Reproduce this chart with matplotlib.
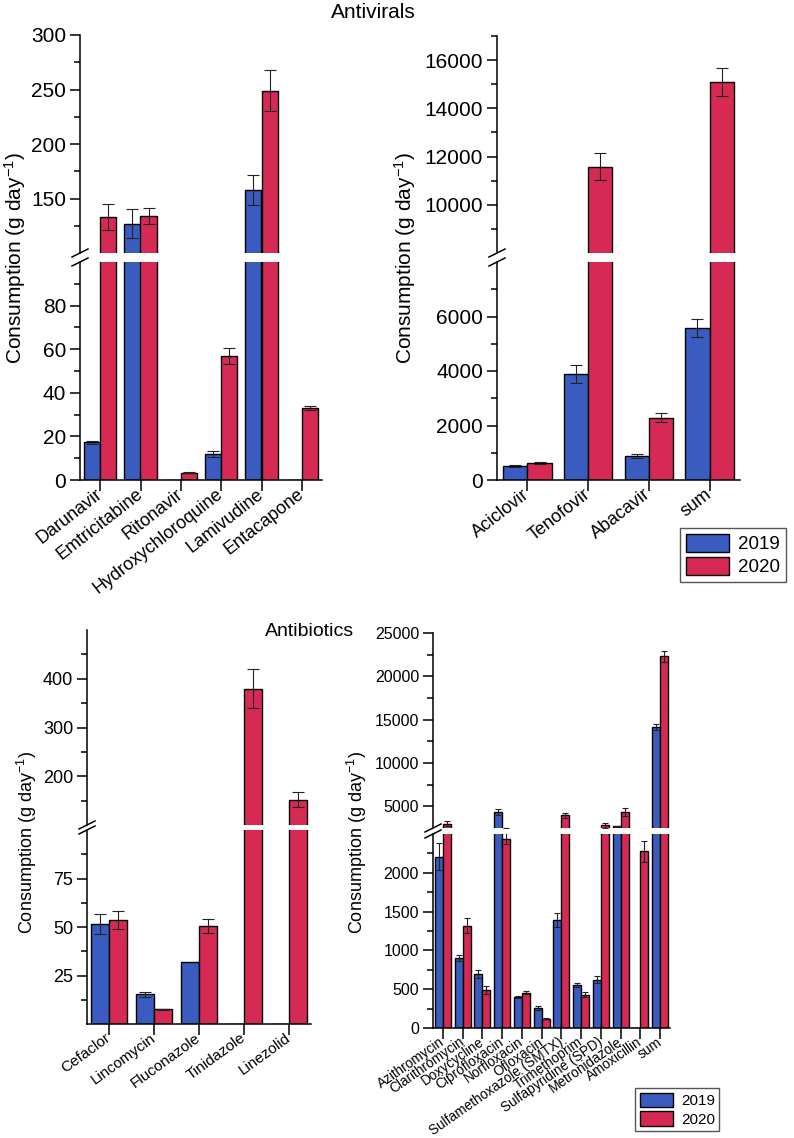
import numpy as np
import matplotlib
matplotlib.use("Agg")
import matplotlib.pyplot as plt
from matplotlib.lines import Line2D
from matplotlib.patches import Patch

plt.rcParams['font.family'] = ['Liberation Sans', 'DejaVu Sans']
plt.rcParams['mathtext.default'] = 'regular'

W, H = 794, 1138
c19 = '#3A5BBF'
c20 = '#D62A55'
years = ['2019', '2020']

# Antivirals, left panel
av1_names = ['Darunavir', 'Emtricitabine', 'Ritonavir', 'Hydroxychloroquine', 'Lamivudine', 'Entacapone']
av1_2019 = [17.3, 127, 0, 11.8, 158, 0]
av1_2019_err = [0.7, 13, 0, 1.3, 14, 0]
av1_2020 = [133, 134, 3.3, 57, 249, 33]
av1_2020_err = [12, 7.5, 0.3, 3.7, 19, 1]

# Antivirals, right panel
av2_names = ['Aciclovir', 'Tenofovir', 'Abacavir', 'sum']
av2_2019 = [510, 3890, 870, 5580]
av2_2019_err = [40, 320, 80, 320]
av2_2020 = [630, 11580, 2290, 15100]
av2_2020_err = [30, 560, 160, 580]

# Antibiotics, left panel
ab1_names = ['Cefaclor', 'Lincomycin', 'Fluconazole', 'Tinidazole', 'Linezolid']
ab1_2019 = [51.5, 15.3, 32, 0, 0]
ab1_2019_err = [5, 1.3, 0, 0, 0]
ab1_2020 = [53.6, 7.6, 50.5, 380, 152]
ab1_2020_err = [4.5, 0.3, 3.5, 40, 15]

# Antibiotics, right panel
ab2_names = ['Azithromycin', 'Clarithromycin', 'Doxycycline', 'Ciprofloxacin', 'Norfloxacin',
             'Ofloxacin', 'Sulfamethoxazole (SMTX)', 'Trimethoprim', 'Sulfapyridine (SPD)',
             'Metronidazole', 'Amoxicillin', 'sum']
ab2_2019 = [2210, 905, 697, 4340, 400, 262, 1390, 555, 620, 2680, 0, 14150]
ab2_2019_err = [175, 40, 50, 350, 15, 25, 90, 25, 45, 60, 0, 350]
ab2_2020 = [2990, 1320, 490, 2440, 452, 120, 3960, 428, 2800, 4340, 2275, 22300]
ab2_2020_err = [300, 100, 50, 70, 20, 8, 260, 30, 280, 430, 140, 650]


def px_rect(x0, y0, x1, y1):
    return [x0 / W, 1 - y1 / H, (x1 - x0) / W, (y1 - y0) / H]


def draw_bars(ax, names, v19, e19, v20, e20, cap):
    x = np.arange(len(names))
    w = 0.4
    ax.bar(x - w / 2, v19, w, color=c19, edgecolor='black', linewidth=1)
    ax.bar(x + w / 2, v20, w, color=c20, edgecolor='black', linewidth=1)
    for xs, v, e in [(x - w / 2, v19, e19), (x + w / 2, v20, e20)]:
        v = np.array(v, dtype=float)
        e = np.array(e, dtype=float)
        m = e > 0
        ax.errorbar(xs[m], v[m], yerr=e[m], fmt='none', ecolor='#222222',
                    elinewidth=0.8, capsize=cap, capthick=0.8)


def panel(up_px, low_px, names, v19, e19, v20, e20, ylim_up, ylim_low,
          maj_up, min_up, maj_low, min_low, ytick_fs, xtick_fs, rot, cap):
    ax_up = fig.add_axes(px_rect(*up_px))
    ax_low = fig.add_axes(px_rect(*low_px))
    for ax in (ax_up, ax_low):
        draw_bars(ax, names, v19, e19, v20, e20, cap)
        ax.set_xlim(-0.5, len(names) - 0.5)
        ax.spines['top'].set_visible(False)
        ax.spines['right'].set_visible(False)
        ax.spines['left'].set_linewidth(1.1)
        ax.spines['bottom'].set_linewidth(1.1)
        ax.tick_params(axis='y', which='major', direction='out', length=7, width=1.1,
                       labelsize=ytick_fs, pad=3)
        ax.tick_params(axis='y', which='minor', direction='out', length=4, width=1.1)
    ax_up.set_ylim(*ylim_up)
    ax_low.set_ylim(*ylim_low)
    ax_up.set_yticks(maj_up)
    ax_up.set_yticks(min_up, minor=True)
    ax_low.set_yticks(maj_low)
    ax_low.set_yticks(min_low, minor=True)
    ax_up.spines['bottom'].set_visible(False)
    ax_up.set_xticks([])
    ax_low.set_xticks(np.arange(len(names)))
    ax_low.set_xticklabels(names, rotation=rot, ha='right', va='center',
                           rotation_mode='anchor', fontsize=xtick_fs)
    ax_low.tick_params(axis='x', direction='out', length=8, width=1.1, pad=1)

    # break marks "//" on the left spine
    x = up_px[0]
    for y in (up_px[3], low_px[1]):
        line = Line2D([(x - 8) / W, (x + 8) / W], [1 - (y + 4) / H, 1 - (y - 4) / H],
                      transform=fig.transFigure, color='black', lw=1.1)
        fig.add_artist(line)
    return ax_up, ax_low


fig = plt.figure(figsize=(W / 100, H / 100), dpi=100)

panel((80, 35, 322, 253), (80, 262, 322, 480), av1_names, av1_2019, av1_2019_err,
      av1_2020, av1_2020_err, (100, 300), (0, 100),
      [150, 200, 250, 300], [125, 175, 225, 275], [0, 20, 40, 60, 80], [10, 30, 50, 70, 90],
      15, 13, 38, 4)

panel((497, 36, 740, 253), (497, 262, 740, 480), av2_names, av2_2019, av2_2019_err,
      av2_2020, av2_2020_err, (8000, 17000), (0, 8000),
      [10000, 12000, 14000, 16000], [9000, 11000, 13000, 15000, 17000],
      [0, 2000, 4000, 6000], [1000, 3000, 5000, 7000],
      15, 13, 38, 4)

panel((87, 630, 311, 825), (87, 830, 311, 1024), ab1_names, ab1_2019, ab1_2019_err,
      ab1_2020, ab1_2020_err, (100, 500), (0, 100),
      [200, 300, 400], [150, 250, 350, 450], [25, 50, 75], [12.5, 37.5, 62.5, 87.5],
      13, 11, 36, 4)

panel((433, 633, 670, 828), (433, 834, 670, 1028), ab2_names, ab2_2019, ab2_2019_err,
      ab2_2020, ab2_2020_err, (2500, 25000), (0, 2500),
      [5000, 10000, 15000, 20000, 25000], [7500, 12500, 17500, 22500],
      [0, 500, 1000, 1500, 2000], [250, 750, 1250, 1750, 2250],
      11.5, 9.8, 35, 2.5)

# y labels
ylab = 'Consumption (g day$^{-1}$)'
fig.text(15 / W, 1 - 258 / H, ylab, rotation=90, ha='center', va='center', fontsize=15)
fig.text(405 / W, 1 - 258 / H, ylab, rotation=90, ha='center', va='center', fontsize=15)
fig.text(27 / W, 1 - 842 / H, ylab, rotation=90, ha='center', va='center', fontsize=13)
fig.text(357 / W, 1 - 842 / H, ylab, rotation=90, ha='center', va='center', fontsize=13)

# titles
fig.text(373 / W, 1 - 12 / H, 'Antivirals', ha='center', va='center', fontsize=15)
fig.text(310 / W, 1 - 632 / H, 'Antibiotics', ha='center', va='center', fontsize=14)

# legends
handles = [Patch(facecolor=c19, edgecolor='black'), Patch(facecolor=c20, edgecolor='black')]
leg1 = fig.legend(handles, years, loc='upper left', bbox_to_anchor=(680 / W, 1 - 528 / H),
                  fontsize=13.5, handlelength=2.3, handleheight=1.1, borderpad=0.3,
                  labelspacing=0.2, handletextpad=0.5, borderaxespad=0,
                  fancybox=False, edgecolor='#555555', framealpha=1)
leg1.get_frame().set_linewidth(1)
leg2 = fig.legend(handles, years, loc='upper left', bbox_to_anchor=(635 / W, 1 - 1088 / H),
                  fontsize=11, handlelength=2.2, handleheight=1.1, borderpad=0.3,
                  labelspacing=0.2, handletextpad=0.5, borderaxespad=0,
                  fancybox=False, edgecolor='#555555', framealpha=1)
leg2.get_frame().set_linewidth(1)

fig.savefig('out.png', dpi=100)
